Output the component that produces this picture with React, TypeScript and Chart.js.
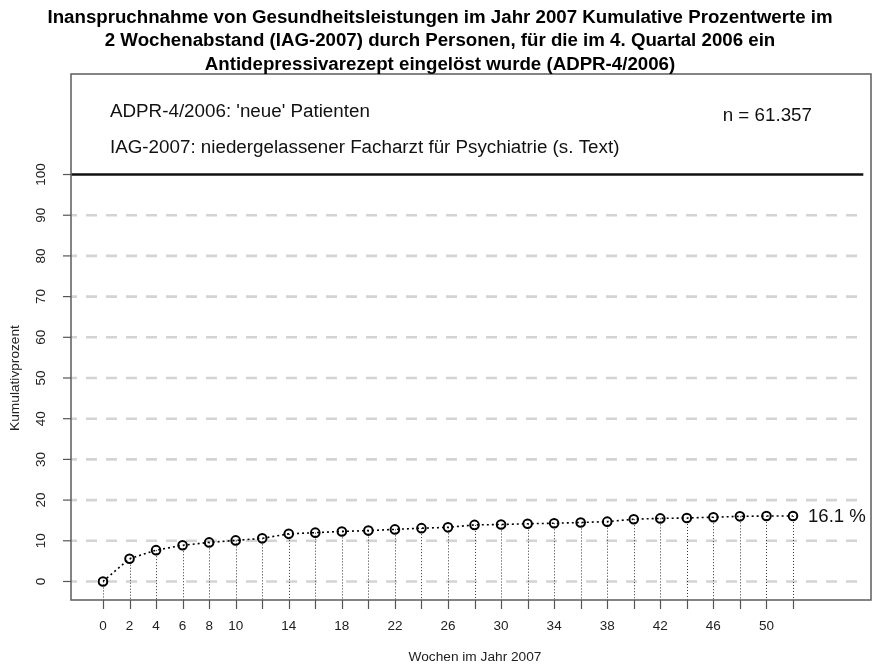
import React, { useEffect, useRef } from "react";
import { Chart, registerables } from "chart.js";

Chart.register(...registerables);

const weeks = [0, 2, 4, 6, 8, 10, 12, 14, 16, 18, 20, 22, 24, 26, 28, 30, 32, 34, 36, 38, 40, 42, 44, 46, 48, 50, 52];
const cumPercent = [0, 5.6, 7.7, 8.9, 9.6, 10.1, 10.6, 11.7, 12.0, 12.3, 12.5, 12.8, 13.1, 13.3, 13.9, 14.0, 14.2, 14.3, 14.5, 14.7, 15.3, 15.5, 15.6, 15.8, 16.0, 16.1, 16.1];
const xTickLabels = [0, 2, 4, 6, 8, 10, 14, 18, 22, 26, 30, 34, 38, 42, 46, 50];
const yTicks = [0, 10, 20, 30, 40, 50, 60, 70, 80, 90, 100];
const titleLines = [
  "Inanspruchnahme von Gesundheitsleistungen im Jahr 2007 Kumulative Prozentwerte im",
  "2 Wochenabstand (IAG-2007) durch Personen, für die im 4. Quartal 2006 ein",
  "Antidepressivarezept eingelöst wurde (ADPR-4/2006)",
];
const noteLine1 = "ADPR-4/2006: 'neue' Patienten";
const noteLine2 = "IAG-2007: niedergelassener Facharzt für Psychiatrie (s. Text)";
const nLabel = "n = 61.357";
const finalLabel = "16.1 %";
const xTitle = "Wochen im Jahr 2007";
const yTitle = "Kumulativprozent";

const FONT = '"Liberation Sans", Arial, Helvetica, sans-serif';

const drawPlugin = {
  id: "rstyle",
  beforeDatasetsDraw(chart: any) {
    const { ctx, chartArea, scales } = chart;
    const xs = scales.x;
    const ys = scales.y;
    const xEnd = xs.getPixelForValue(57.3);
    ctx.save();
    yTicks.forEach((v) => {
      const y = ys.getPixelForValue(v);
      ctx.beginPath();
      if (v === 100) {
        ctx.setLineDash([]);
        ctx.strokeStyle = "#111";
        ctx.lineWidth = 2.6;
      } else {
        ctx.setLineDash([11, 9]);
        ctx.lineDashOffset = -15;
        ctx.strokeStyle = "#d4d4d4";
        ctx.lineWidth = 2.6;
      }
      ctx.moveTo(chartArea.left, y);
      ctx.lineTo(xEnd, y);
      ctx.stroke();
    });
    const meta = chart.getDatasetMeta(0);
    ctx.setLineDash([1, 2]);
    ctx.lineDashOffset = 0;
    ctx.strokeStyle = "#333";
    ctx.lineWidth = 1;
    meta.data.forEach((pt: any) => {
      const x = Math.round(pt.x) + 0.5;
      ctx.beginPath();
      ctx.moveTo(x, pt.y);
      ctx.lineTo(x, chartArea.bottom);
      ctx.stroke();
    });
    ctx.restore();
  },
  afterDraw(chart: any) {
    const { ctx, chartArea, scales } = chart;
    const xs = scales.x;
    const ys = scales.y;
    ctx.save();
    ctx.setLineDash([]);
    ctx.strokeStyle = "#666";
    ctx.lineWidth = 1.6;
    ctx.strokeRect(chartArea.left, chartArea.top, chartArea.right - chartArea.left, chartArea.bottom - chartArea.top);

    ctx.strokeStyle = "#555";
    ctx.lineWidth = 1.2;
    ctx.fillStyle = "#222";
    ctx.font = `13.5px ${FONT}`;
    yTicks.forEach((v) => {
      const y = ys.getPixelForValue(v);
      ctx.beginPath();
      ctx.moveTo(chartArea.left - 8, y);
      ctx.lineTo(chartArea.left, y);
      ctx.stroke();
      ctx.save();
      ctx.translate(chartArea.left - 30, y);
      ctx.rotate(-Math.PI / 2);
      ctx.textAlign = "center";
      ctx.textBaseline = "middle";
      ctx.fillText(String(v), 0, 0);
      ctx.restore();
    });

    weeks.forEach((w) => {
      const x = Math.round(xs.getPixelForValue(w)) + 0.5;
      ctx.beginPath();
      ctx.moveTo(x, chartArea.bottom);
      ctx.lineTo(x, chartArea.bottom + 9);
      ctx.stroke();
    });
    ctx.textAlign = "center";
    ctx.textBaseline = "middle";
    xTickLabels.forEach((w) => {
      const x = xs.getPixelForValue(w);
      ctx.fillText(String(w), x, chartArea.bottom + 26);
    });

    ctx.font = `13.7px ${FONT}`;
    ctx.fillText(xTitle, (chartArea.left + chartArea.right) / 2 + 4, chartArea.bottom + 57);
    ctx.save();
    ctx.translate(15, ys.getPixelForValue(50));
    ctx.rotate(-Math.PI / 2);
    ctx.fillText(yTitle, 0, 0);
    ctx.restore();

    ctx.fillStyle = "#000";
    ctx.font = `bold 18.7px ${FONT}`;
    titleLines.forEach((line, i) => {
      ctx.fillText(line, 440, 17.5 + i * 23.5);
    });

    ctx.fillStyle = "#111";
    ctx.font = `18.8px ${FONT}`;
    ctx.textAlign = "left";
    ctx.fillText(noteLine1, 110, 112);
    ctx.fillText(noteLine2, 110, 148);
    ctx.textAlign = "right";
    ctx.fillText(nLabel, 812, 116);

    const meta = chart.getDatasetMeta(0);
    const last = meta.data[meta.data.length - 1];
    ctx.textAlign = "left";
    ctx.font = `18.6px ${FONT}`;
    ctx.fillText(finalLabel, last.x + 15, last.y + 1);
    ctx.restore();
  },
};

export default function App() {
  const canvasRef = useRef<HTMLCanvasElement | null>(null);
  useEffect(() => {
    if (!canvasRef.current) return;
    const chart = new Chart(canvasRef.current, {
      type: "line",
      data: {
        datasets: [
          {
            data: weeks.map((w, i) => ({ x: w, y: cumPercent[i] })),
            borderColor: "#000",
            borderWidth: 1.6,
            borderDash: [2, 3],
            pointRadius: 4.3,
            pointBorderWidth: 2,
            pointBorderColor: "#000",
            pointBackgroundColor: "rgba(0,0,0,0)",
            tension: 0,
            fill: false,
          },
        ],
      },
      options: {
        responsive: false,
        animation: false,
        devicePixelRatio: 1,
        layout: { padding: { left: 71, top: 74, right: 8, bottom: 69 } },
        scales: {
          x: { type: "linear", min: -2.41, max: 57.88, display: false },
          y: { type: "linear", min: -4.55, max: 124.7, display: false },
        },
        plugins: { legend: { display: false }, tooltip: { enabled: false }, title: { display: false } },
        events: [],
      },
      plugins: [drawPlugin],
    } as any);
    return () => chart.destroy();
  }, []);
  return (
    <div style={{ position: "fixed", left: 0, top: 0, width: 879, height: 669, background: "#fff" }}>
      <canvas ref={canvasRef} width={879} height={669} style={{ display: "block" }} />
    </div>
  );
}
